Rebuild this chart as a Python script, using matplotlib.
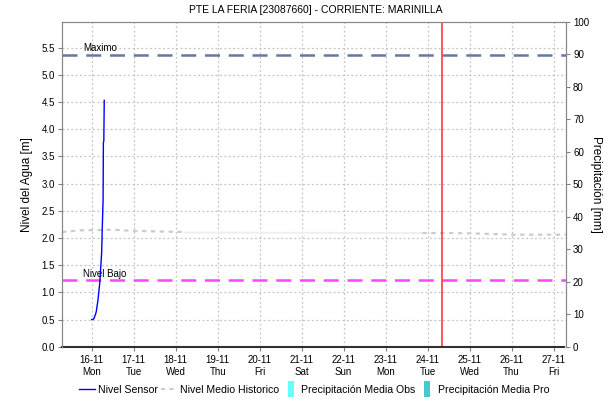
import numpy as np
import pandas as pd
import matplotlib
matplotlib.use("Agg")
import matplotlib.pyplot as plt
import matplotlib.dates as mdates
from matplotlib.lines import Line2D

plt.rcParams["font.family"] = ["Liberation Sans", "DejaVu Sans"]

TITLE = "PTE LA FERIA [23087660] - CORRIENTE: MARINILLA"

# sensor level
sensor_time = pd.to_datetime([
    "2020-11-16 00:00", "2020-11-16 01:10", "2020-11-16 01:40", "2020-11-16 02:35",
    "2020-11-16 03:35", "2020-11-16 04:35", "2020-11-16 05:40", "2020-11-16 06:05",
    "2020-11-16 06:30", "2020-11-16 06:40", "2020-11-16 06:55", "2020-11-16 07:10",
])
sensor_level = [0.50, 0.51, 0.55, 0.64, 0.86, 1.17, 1.72, 2.24, 2.70, 3.76, 3.78, 4.53]

# historic mean level (dotted parts + faint middle part)
hist_time_a = pd.to_datetime([
    "2020-11-15 07:00", "2020-11-15 18:00", "2020-11-16 12:00",
    "2020-11-17 00:00", "2020-11-17 12:00", "2020-11-18 05:00",
])
hist_level_a = [2.11, 2.14, 2.15, 2.13, 2.12, 2.11]
hist_time_b = pd.to_datetime([
    "2020-11-18 05:00", "2020-11-23 21:00",
])
hist_level_b = [2.10, 2.09]
hist_time_c = pd.to_datetime([
    "2020-11-23 21:00", "2020-11-24 12:00", "2020-11-25 06:00",
    "2020-11-26 00:00", "2020-11-27 07:00",
])
hist_level_c = [2.09, 2.09, 2.08, 2.06, 2.06]

nivel_maximo = 5.37
nivel_bajo = 1.22
now_time = pd.Timestamp("2020-11-24 08:10")
x_start = pd.Timestamp("2020-11-15 07:00")
x_end = pd.Timestamp("2020-11-27 07:10")

fig = plt.figure(figsize=(6.1, 4.03), dpi=100)
ax = fig.add_axes([0.1016, 0.1397, 0.8264, 0.8057])
ax2 = ax.twinx()

ax.grid(True, color="#c4c4c4", linestyle=(0, (1.5, 2)), linewidth=0.9)
ax.set_axisbelow(True)

ax.axhline(nivel_maximo, color="#6677a0", linewidth=1.8, dashes=(6, 3.5))
ax.axhline(nivel_bajo, color="#ff44ff", linewidth=1.8, dashes=(6, 3.5))
ax.text(mdates.date2num(pd.Timestamp("2020-11-15 19:00")), nivel_maximo + 0.03,
        "Maximo", fontsize=7, va="bottom", ha="left")
ax.text(mdates.date2num(pd.Timestamp("2020-11-15 19:00")), nivel_bajo + 0.03,
        "Nivel Bajo", fontsize=7, va="bottom", ha="left")

ax.plot(hist_time_a, hist_level_a, color="#cccccc", linewidth=1.6, dashes=(2, 2))
ax.plot(hist_time_b, hist_level_b, color="#eeeeee", linewidth=1.3)
ax.plot(hist_time_c, hist_level_c, color="#cccccc", linewidth=1.6, dashes=(2, 2))
ax.plot(sensor_time, sensor_level, color="#0000ff", linewidth=1.0)
ax.axvline(now_time, color="#ff3b3b", linewidth=1.2)

ax.set_xlim(x_start, x_end)
ax.set_ylim(0, 5.97)
ax.set_yticks(np.arange(0, 5.51, 0.5))
ax.yaxis.set_major_formatter(matplotlib.ticker.FormatStrFormatter("%.1f"))
ax.xaxis.set_major_locator(mdates.DayLocator())
ax.xaxis.set_major_formatter(mdates.DateFormatter("%d-%m\n%a"))
ax.set_ylabel("Nivel del Agua [m]", fontsize=8.5, labelpad=6)

ax2.set_ylim(0, 100)
ax2.set_yticks(np.arange(0, 101, 10))
ax2.set_ylabel("Precipitación [mm]", fontsize=8.5, rotation=270, labelpad=9)

for a in (ax, ax2):
    a.tick_params(labelsize=7, length=3, color="#808080", pad=2)
    for s in a.spines.values():
        s.set_color("#888888")
ax.spines["bottom"].set_color("#303030")
ax.spines["bottom"].set_linestyle((0, (1, 1)))
ax.spines["bottom"].set_linewidth(1.5)
ax2.spines["bottom"].set_visible(False)
ax.tick_params(axis="x", labelsize=7, pad=3)

fig.text(0.517, 0.975, TITLE, ha="center", va="center", fontsize=7.5)

bar_marker = [(-0.4, -1), (0.4, -1), (0.4, 1), (-0.4, 1), (-0.4, -1)]
handles = [
    Line2D([], [], color="#0000ff", linewidth=1.0),
    Line2D([], [], color="#cccccc", linewidth=1.5, dashes=(2, 2)),
    Line2D([], [], linestyle="none", marker=bar_marker, markersize=11,
           color="#66ffff", markeredgewidth=0),
    Line2D([], [], linestyle="none", marker=bar_marker, markersize=11,
           color="#44cccc", markeredgewidth=0),
]
labels = ["Nivel Sensor", "Nivel Medio Historico",
          "Precipitación Media Obs", "Precipitación Media Pro"]
fig.legend(handles, labels, loc="center", bbox_to_anchor=(0.515, 0.032), ncol=4,
           frameon=False, fontsize=7.6, handlelength=1.5, handletextpad=0.25,
           columnspacing=0.35)

fig.savefig("out.png", dpi=100)
